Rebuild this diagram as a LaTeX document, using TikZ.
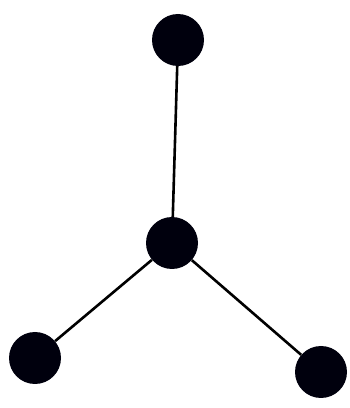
\documentclass[tikz,border=0pt]{standalone}
\begin{document}
\begin{tikzpicture}[x=1pt,y=1pt,
  dot/.style={circle,fill=black!95!blue,inner sep=0pt,minimum size=52pt},
  edge/.style={draw=black,line width=2.6pt}]
\useasboundingbox (0,0) rectangle (349,408);
\node[dot] (t) at (178,368) {};
\node[dot] (c) at (172,165) {};
\node[dot] (l) at (35,50) {};
\node[dot] (r) at (321,36) {};
\draw[edge] (t) -- (c);
\draw[edge] (c) -- (l);
\draw[edge] (c) -- (r);
\end{tikzpicture}
\end{document}
